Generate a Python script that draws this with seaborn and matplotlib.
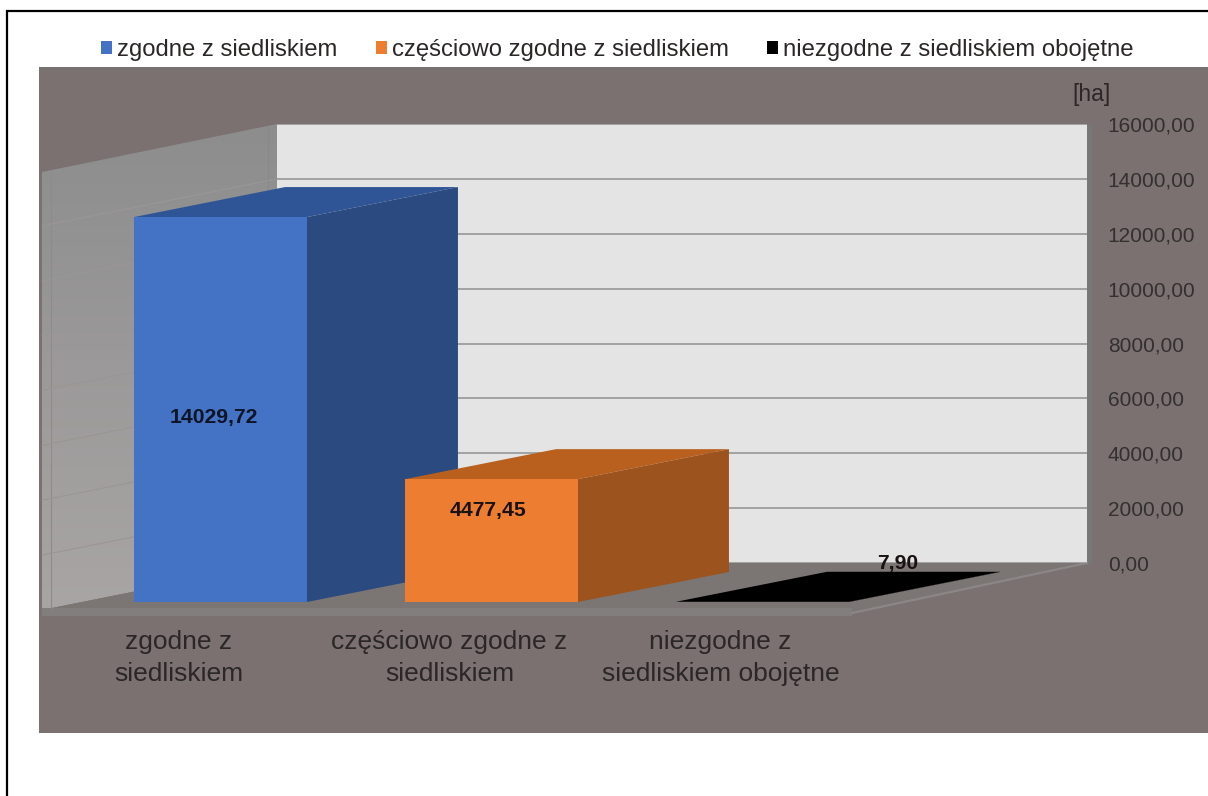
import numpy as np
import pandas as pd
import matplotlib
matplotlib.use("Agg")
import matplotlib.pyplot as plt
from matplotlib.patches import Polygon, Rectangle
import seaborn as sns

categories = ["zgodne z siedliskiem", "częściowo zgodne z siedliskiem", "niezgodne z siedliskiem obojętne"]
tick_labels = ["zgodne z\nsiedliskiem", "częściowo zgodne z\nsiedliskiem", "niezgodne z\nsiedliskiem obojętne"]
values = [14029.72, 4477.45, 7.90]
y_ticks = [0, 2000, 4000, 6000, 8000, 10000, 12000, 14000, 16000]
front_colors = ["#4472c4", "#ed7d31", "#000000"]
top_colors = ["#2f5597", "#b9601e", "#000000"]
side_colors = ["#2a4a80", "#9c531d", "#000000"]
label_offsets_px = [(-7, -8), (-3, 30), (135, 38)]

W, H = 1208, 796
sns.set_style("white")
plt.rcParams["font.family"] = ["Liberation Sans", "DejaVu Sans"]
TXT = "#2b2727"
fig = plt.figure(figsize=(W / 100, H / 100), dpi=100, facecolor="white")


def rect(l, t, r, b):
    return [l / W, 1 - b / H, (r - l) / W, (b - t) / H]


# scenery in pixel coordinates
bg = fig.add_axes([0, 0, 1, 1], zorder=0)
bg.set_xlim(0, W)
bg.set_ylim(H, 0)
bg.axis("off")
bg.add_patch(Rectangle((39, 67), W - 39, 666, fc="#7a7170", ec="none"))
bg.add_patch(Rectangle((39, 67), W - 39, 3, fc="#767272", ec="none"))
bg.plot([7, 7, W], [H, 11, 11], color="black", lw=1.6, solid_joinstyle="miter")
grad = np.linspace(0, 1, 256).reshape(-1, 1)
cm = matplotlib.colors.LinearSegmentedColormap.from_list("w", ["#8d8d8d", "#a9a5a5"])
im = bg.imshow(grad, extent=(42, 277, 610, 124), cmap=cm, aspect="auto", zorder=1)
wall = Polygon([(42, 172), (277, 124), (277, 563), (42, 610)], closed=True, fc="none", ec="none", transform=bg.transData)
bg.add_patch(wall)
im.set_clip_path(wall)
bg.set_xlim(0, W)
bg.set_ylim(H, 0)
bg.add_patch(Polygon([(42, 610), (277, 563), (1087, 563), (852, 613)], closed=True, fc="#7b7574", ec="none", zorder=2))
bg.add_patch(Rectangle((42, 608), 810, 8, fc="#837e7e", ec="none", zorder=2))
bg.plot([852, 1087], [613, 563], color="#8c8787", lw=1.6, zorder=2)
bg.add_patch(Rectangle((1087, 124), 5, 441, fc="#777777", ec="none", zorder=1))
bg.plot([268, 268], [126, 565], color="#898989", lw=0.8, zorder=2)
bg.plot([51, 51], [171, 608], color="#8f8b8b", lw=0.8, zorder=2)
bg.text(1092, 95, "[ha]", fontsize=16.5, color=TXT, ha="center", va="center")

# back wall with the value axis
ax_wall = fig.add_axes(rect(277, 124, 1087, 563), zorder=1)
ax_wall.set_facecolor("#e4e4e4")
ax_wall.set_xlim(0, 1)
ax_wall.set_ylim(0, 16000)
ax_wall.set_xticks([])
ax_wall.set_yticks(y_ticks)
ax_wall.set_yticklabels([f"{v:.2f}".replace(".", ",") for v in y_ticks], fontsize=15, color="#333030")
ax_wall.yaxis.tick_right()
ax_wall.tick_params(axis="y", length=0, pad=15)
ax_wall.grid(axis="y", color="#9c9c9c", lw=1.3)
for s in ax_wall.spines.values():
    s.set_visible(False)
# grid continues down the side wall
for v in y_ticks[1:-1]:
    y_px = 563 - v * 439 / 16000
    bg.plot([42, 277], [y_px + 47, y_px], color="#9a9696", lw=0.8, zorder=2)

# bars in the front plane
ax = fig.add_axes(rect(42, 163, 851, 602), zorder=2)
ax.patch.set_alpha(0)
df = pd.DataFrame({"kategoria": categories, "wartosc": values})
sns.barplot(data=df, x="kategoria", y="wartosc", hue="kategoria", order=categories, hue_order=categories,
            palette=front_colors, saturation=1, width=0.638, dodge=False, legend=True, linewidth=0, ax=ax)
ax.set_xlim((42 - 220.5) / 271, (851 - 220.5) / 271)
ax.set_ylim(0, 16000)
ax.set_xlabel("")
ax.set_ylabel("")
ax.set_yticks([])
ax.set_xticks([i - 0.155 for i in range(3)])
ax.set_xticklabels(tick_labels, fontsize=19, color=TXT, linespacing=1.43)
ax.tick_params(axis="x", length=0, pad=20)
for s in ax.spines.values():
    s.set_visible(False)

dx = 151 / 271
dy = 30 * 16000 / 439
bars = [c[0] for c in ax.containers]
for i, b in enumerate(bars):
    x0, x1 = b.get_x(), b.get_x() + b.get_width()
    h = b.get_height()
    b.set_zorder(3 + 2 * i)
    b.set_edgecolor("none")
    ax.add_patch(Polygon([(x0, h), (x1, h), (x1 + dx, h + dy), (x0 + dx, h + dy)], closed=True,
                         fc=top_colors[i], ec="none", zorder=2 + 2 * i, clip_on=False))
    ax.add_patch(Polygon([(x1, 0), (x1, h), (x1 + dx, h + dy), (x1 + dx, dy)], closed=True,
                         fc=side_colors[i], ec="none", zorder=2 + 2 * i, clip_on=False))
    ox, oy = label_offsets_px[i]
    ax.annotate(f"{values[i]:.2f}".replace(".", ","), (b.get_x() + b.get_width() / 2, h / 2),
                xytext=(ox * 0.72, oy * 0.72), textcoords="offset points", ha="center", va="center",
                fontsize=15.2, fontweight="bold", color="#0d1526" if i == 0 else "#1a1210", zorder=20,
                annotation_clip=False)

handles, labels = ax.get_legend_handles_labels()
ax.get_legend().remove()
for hd in handles:
    hd.set_edgecolor("none")
fig.legend(handles, labels, ncol=3, loc="center left", bbox_to_anchor=(101 / W, 1 - 50 / H), frameon=False,
           fontsize=17.2, labelcolor=TXT, handlelength=0.47, handleheight=0.47, handletextpad=0.2,
           columnspacing=1.6, borderpad=0, borderaxespad=0)

fig.savefig("out.png", dpi=100, facecolor="white")
